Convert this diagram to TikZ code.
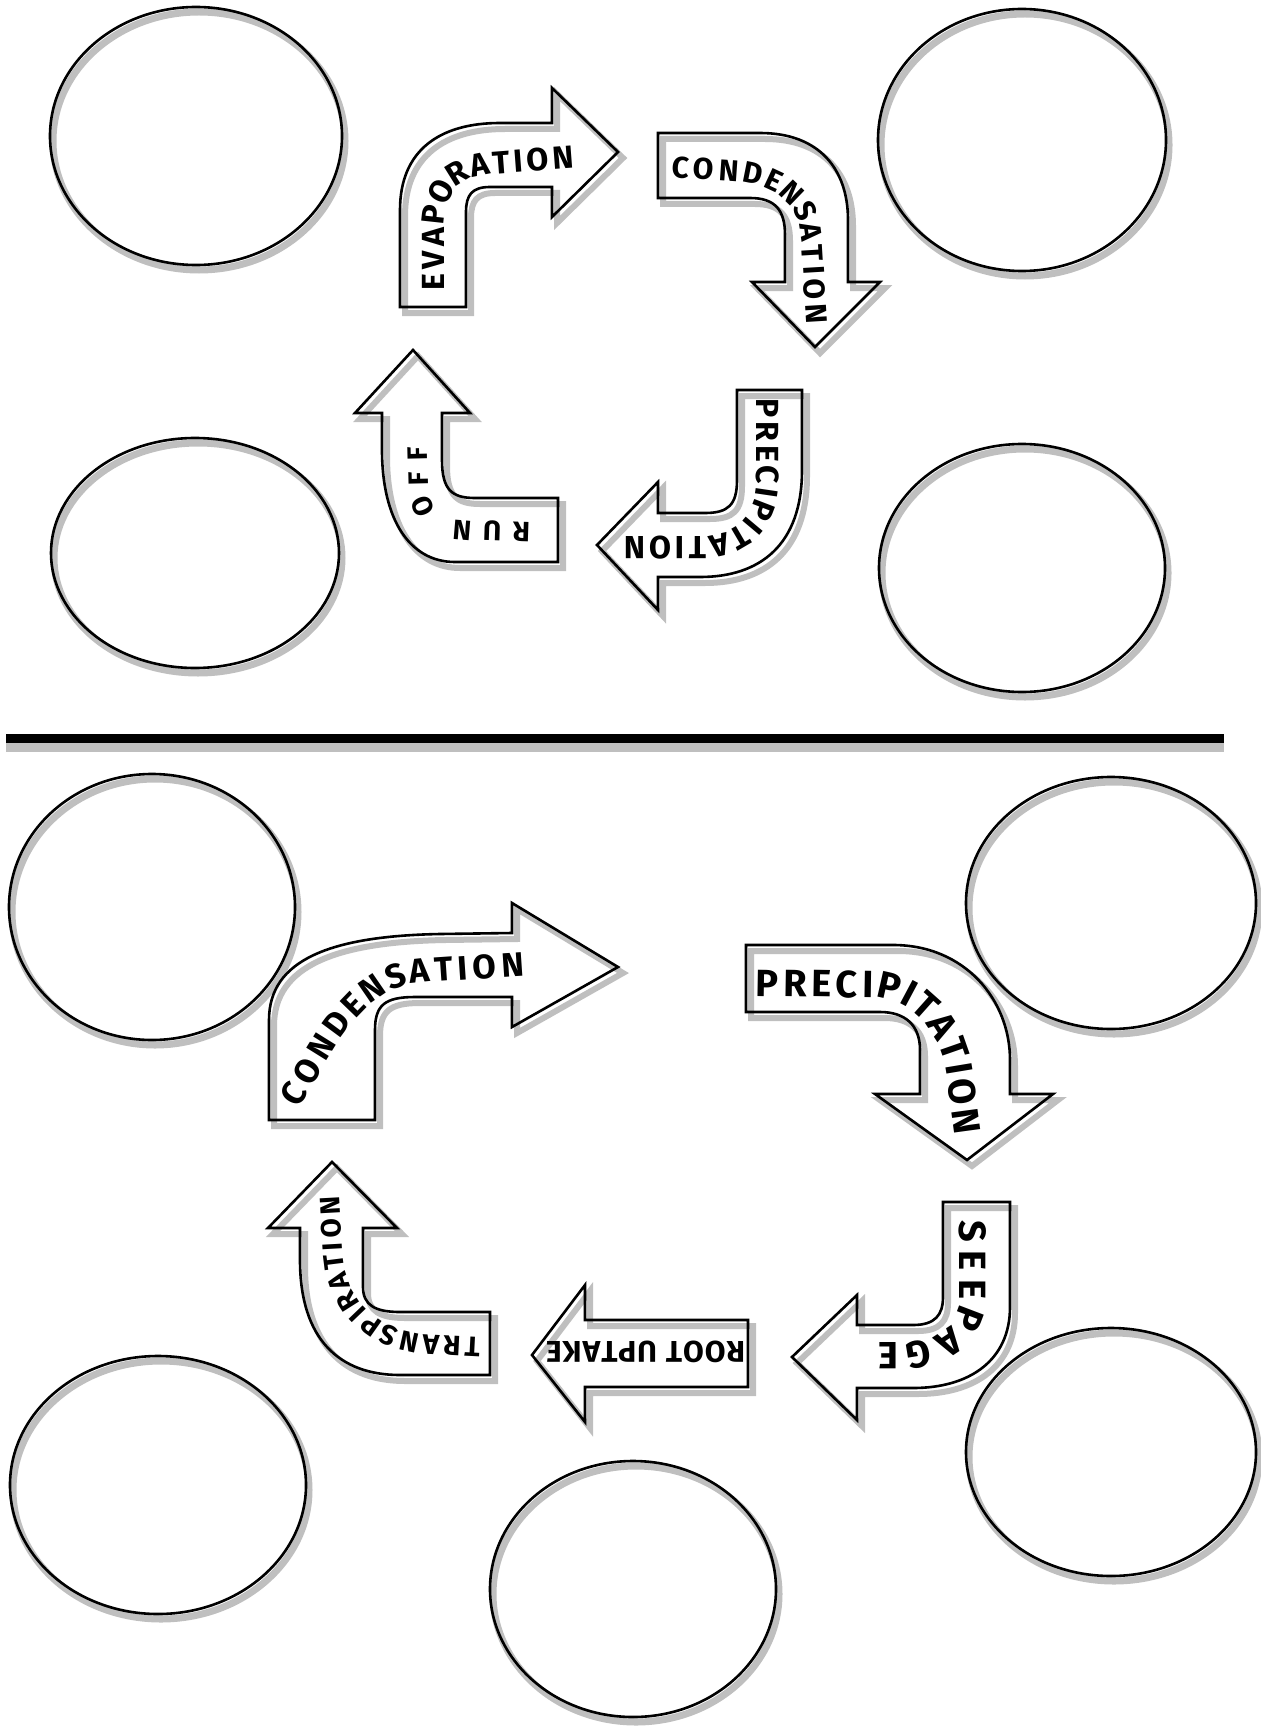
\documentclass[tikz,border=0pt]{standalone}
\usepackage{fontspec}
\setmainfont{Fira Sans}
\usetikzlibrary{shapes.geometric,decorations.text}

\begin{document}
\begin{tikzpicture}[
    x=0.5pt, y=-0.5pt,
    oval/.style={ellipse, draw=black, line width=1.3pt, inner sep=0pt,
                 preaction={draw=gray!50, line width=3.5pt,
                            transform canvas={shift={(1.5pt,-2.5pt)}}}},
    blockarr/.style={fill=white, line join=miter,
                 postaction={draw=gray!50, line width=3pt,
                             transform canvas={shift={(2.5pt,-3pt)}}},
                 postaction={draw=black, line width=1.3pt}},
    lbl/.style={decorate, decoration={text along path, text align={fit to path}, raise=#1}},
    divider/.style={line width=4.5pt,
                 preaction={draw=gray!50, line width=4.5pt,
                            transform canvas={shift={(0pt,-4.5pt)}}}}
]
\useasboundingbox (0,0) rectangle (1261,1728);

% upper cycle
\node[oval, minimum width=146pt, minimum height=129pt] (c1) at (196,136) {};
\node[oval, minimum width=144pt, minimum height=131pt] (c2) at (1022,140) {};
\node[oval, minimum width=144pt, minimum height=115pt] (c3) at (195,553) {};
\node[oval, minimum width=143pt, minimum height=124pt] (c4) at (1022,568) {};

\path[blockarr] (400,307) -- (400,210) .. controls (400,150) and (440,123) .. (500,123) -- (552,123) -- (552,88) -- (618,152) -- (552,217) -- (552,187) -- (490,187) .. controls (472,187) and (466,195) .. (466,212) -- (466,307) -- cycle;
\path[lbl=-5.6pt, decoration={text={|\bfseries\fontsize{16pt}{16pt}\selectfont|EVAPORATION}}]
    (433,290) -- (433,225) .. controls (433,185) and (455,165) .. (495,163) -- (574,157);

\path[blockarr] (658,133) -- (760,133) .. controls (820,133) and (848,170) .. (848,220) -- (848,282) -- (880,282) -- (815,347) -- (752,282) -- (785,282) -- (785,235) .. controls (785,210) and (775,198) .. (750,198) -- (658,198) -- cycle;
\path[lbl=-5.2pt, decoration={text={|\bfseries\fontsize{15pt}{15pt}\selectfont|CONDENSATION}}]
    (672,167) -- (745,172) .. controls (790,178) and (810,205) .. (812,240) -- (817,324);

\path[blockarr] (737,390) -- (802,390) -- (802,470) .. controls (802,545) and (760,577) .. (700,577) -- (658,577) -- (658,610) -- (597,545) -- (658,482) -- (658,513) -- (705,513) .. controls (728,513) and (737,505) .. (737,480) -- cycle;
\path[lbl=-5.6pt, decoration={text={|\bfseries\fontsize{16pt}{16pt}\selectfont|PRECIPITATION}}]
    (768,398) -- (768,480) .. controls (766,525) and (745,545) .. (700,548) -- (624,548);

\path[blockarr] (558,498) -- (558,562) -- (455,562) .. controls (410,562) and (382,520) .. (382,450) -- (382,413) -- (355,413) -- (413,350) -- (470,413) -- (442,413) -- (442,460) .. controls (442,490) and (452,498) .. (475,498) -- cycle;
\path[lbl=-4.8pt, decoration={text={|\bfseries\fontsize{14pt}{14pt}\selectfont|RUN OFF}}]
    (530,532) -- (465,530) .. controls (430,528) and (420,510) .. (419,490) -- (418,447);

% divider
\coordinate (divL) at (6,738);
\coordinate (divR) at (1224,738);
\draw[divider] (divL) -- (divR);

% lower cycle
\node[oval, minimum width=143pt, minimum height=133pt] (d1) at (152,907) {};
\node[oval, minimum width=145pt, minimum height=126pt] (d2) at (1111,903) {};
\node[oval, minimum width=148pt, minimum height=129pt] (d3) at (158,1485) {};
\node[oval, minimum width=143pt, minimum height=128pt] (d4) at (633,1589) {};
\node[oval, minimum width=145pt, minimum height=124pt] (d5) at (1111,1452) {};

\path[blockarr] (269,1120) -- (269,1020) .. controls (269,960) and (330,936) .. (440,934) -- (512,933) -- (512,903) -- (618,967) -- (512,1027) -- (512,997) -- (415,997) .. controls (385,997) and (375,1005) .. (375,1030) -- (375,1120) -- cycle;
\path[lbl=-5.9pt, decoration={text={|\bfseries\fontsize{17pt}{17pt}\selectfont|CONDENSATION}}]
    (288,1102) .. controls (325,1045) and (350,978) .. (420,971) -- (524,964);

\path[blockarr] (746,945) -- (893,945) .. controls (965,945) and (1010,1000) .. (1010,1060) -- (1010,1094) -- (1053,1094) -- (967,1160) -- (875,1094) -- (920,1094) -- (920,1050) .. controls (920,1025) and (905,1012) .. (880,1012) -- (746,1012) -- cycle;
\path[lbl=-6.5pt, decoration={text={|\bfseries\fontsize{19pt}{19pt}\selectfont|PRECIPITATION}}]
    (756,983) -- (880,985) .. controls (925,990) and (955,1030) .. (960,1075) -- (968,1134);

\path[blockarr] (943,1202) -- (1010,1202) -- (1010,1307) .. controls (1010,1360) and (970,1388) .. (913,1388) -- (857,1388) -- (857,1420) -- (792,1357) -- (857,1295) -- (857,1325) -- (913,1325) .. controls (935,1325) and (943,1315) .. (943,1297) -- cycle;
\path[lbl=-6.5pt, decoration={text={|\bfseries\fontsize{19pt}{19pt}\selectfont|SEEPAGE}}]
    (972,1220) -- (972,1300) .. controls (970,1335) and (945,1352) .. (910,1355) -- (878,1355);

\path[blockarr] (748,1320) -- (748,1387) -- (585,1387) -- (585,1422) -- (532,1355) -- (585,1285) -- (585,1320) -- cycle;
\path[lbl=-5.2pt, decoration={text={|\bfseries\fontsize{15pt}{15pt}\selectfont|ROOT UPTAKE}}]
    (745,1352) -- (546,1352);

\path[blockarr] (490,1312) -- (490,1375) -- (400,1375) .. controls (340,1375) and (300,1340) .. (300,1260) -- (300,1228) -- (268,1228) -- (332,1162) -- (397,1228) -- (363,1228) -- (363,1287) .. controls (363,1305) and (375,1312) .. (400,1312) -- cycle;
\path[lbl=-4.8pt, decoration={text={|\bfseries\fontsize{14pt}{14pt}\selectfont|TRANSPIRATION}}]
    (480,1347) -- (420,1344) .. controls (365,1336) and (334,1300) .. (333,1250) -- (330,1196);
\end{tikzpicture}
\end{document}
